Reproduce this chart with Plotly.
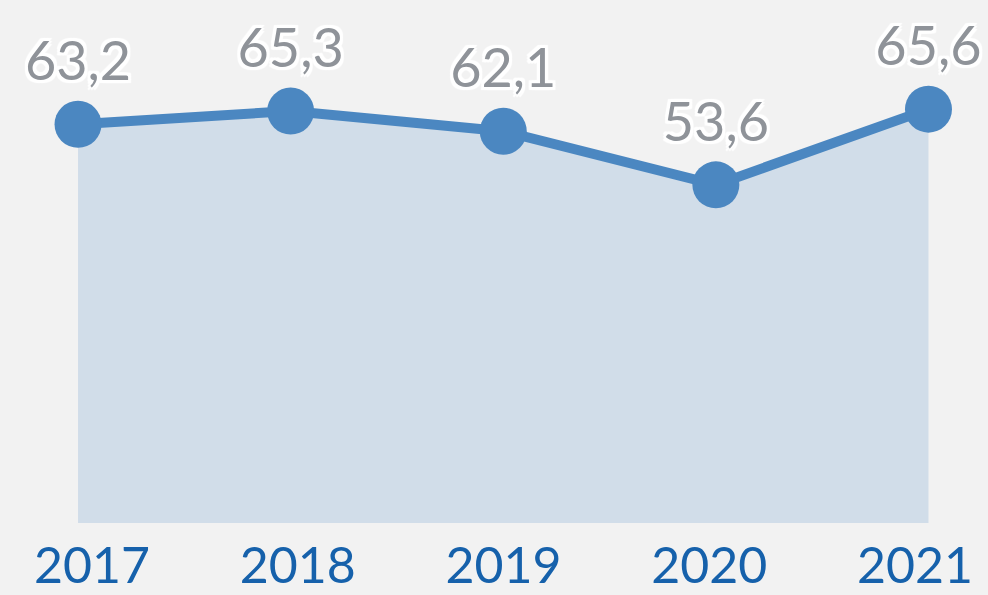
import plotly.graph_objects as go

years = [2017, 2018, 2019, 2020, 2021]
values = [63.2, 65.3, 62.1, 53.6, 65.6]
labels = ["63,2", "65,3", "62,1", "53,6", "65,6"]
tick_text = ["2017", "2018", "2019", "2020", "2021"]

shadow = ", ".join(f"{dx}px {dy}px 1px #ffffff" for dx in (-3, 0, 3) for dy in (-3, 0, 3) if (dx, dy) != (0, 0))

fig = go.Figure()
fig.add_trace(go.Scatter(
    x=years, y=values, mode="lines",
    line=dict(color="rgba(0,0,0,0)", width=0),
    fill="tozeroy", fillcolor="#d1dde9", hoverinfo="skip", showlegend=False,
))
fig.add_trace(go.Scatter(
    x=years, y=values, mode="lines+markers+text",
    line=dict(color="#4b87c1", width=10),
    marker=dict(size=47, color="#4b87c1"),
    text=labels, textposition="top center",
    textfont=dict(family="Lato", size=54, color="#8f9399", shadow=shadow),
    showlegend=False, cliponaxis=False,
))
# invisible trace on second x axis for the year labels
fig.add_trace(go.Scatter(x=years, y=[None]*5, xaxis="x2", showlegend=False, hoverinfo="skip"))

fig.update_layout(
    width=988, height=595,
    margin=dict(l=0, r=0, t=0, b=72),
    paper_bgcolor="#f2f2f2", plot_bgcolor="#f2f2f2",
    xaxis=dict(range=[2016.633, 2021.28], showgrid=False, zeroline=False,
               showticklabels=False, showline=False),
    xaxis2=dict(range=[2016.553, 2021.355], overlaying="x", side="bottom",
                tickvals=years, ticktext=tick_text, showgrid=False, zeroline=False,
                tickfont=dict(family="Lato", size=50, color="#1661ab"), ticks="",
                ticklabelstandoff=9, showline=False),
    yaxis=dict(range=[0, 82.9], showgrid=False, zeroline=False, showticklabels=False),
)
fig.write_html("out.html", config={"displayModeBar": False},
               post_script="document.body.style.margin='0';document.body.style.overflow='hidden';")
